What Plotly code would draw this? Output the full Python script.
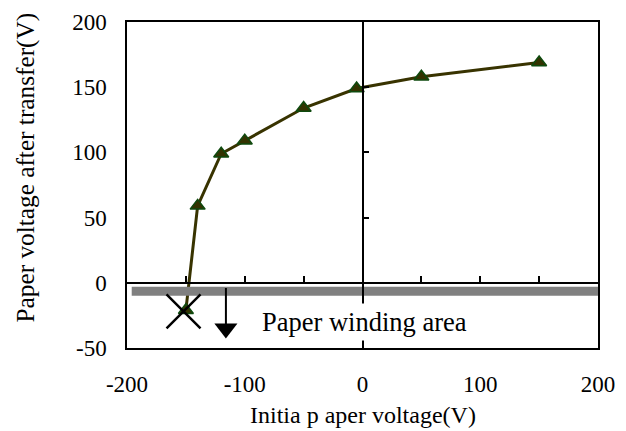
import plotly.graph_objects as go

# Data
initial_voltage = [-150, -140, -120, -100, -50, -5, 50, 150]
after_voltage = [-21, 59, 99, 109, 134, 149, 158, 169]

x_ticks = [-200, -100, 0, 100, 200]
x_tick_text = ["-200", "-100", "0", "100", "200"]
y_ticks = [-50, 0, 50, 100, 150, 200]
y_tick_text = ["-50", "0", "50", "100", "150", "200"]
minor_ticks_x = [-200, -150, -100, -50, 0, 50, 100, 150, 200]
minor_ticks_y = [-50, 0, 50, 100, 150, 200]

band_x = [-196, 200]
band_y = [-6.5, -6.5]
cross_x = [-152]
cross_y = [-22]
arrow_x = [-116, -116]
arrow_y = [-4, -33]
arrow_head_x = [-116]
arrow_head_y = [-35]

FONT = "Liberation Serif, Times New Roman, serif"

fig = go.Figure()

fig.add_trace(go.Scatter(
    x=initial_voltage, y=after_voltage, mode="lines+markers",
    line=dict(color="#383300", width=3),
    marker=dict(symbol="triangle-up", size=13, color="#333300",
                line=dict(color="#0e4a0e", width=1.5)),
    showlegend=False, hoverinfo="skip",
))

# overlay axes (zero lines with ticks)
fig.add_trace(go.Scatter(
    x=band_x, y=band_y, mode="lines", xaxis="x2", yaxis="y2",
    line=dict(color="#808080", width=9), showlegend=False, hoverinfo="skip",
))
fig.add_trace(go.Scatter(
    x=cross_x, y=cross_y, mode="markers", xaxis="x2", yaxis="y2",
    marker=dict(symbol="x-thin", size=34, line=dict(color="black", width=2.5)),
    showlegend=False, hoverinfo="skip",
))
fig.add_trace(go.Scatter(
    x=arrow_x, y=arrow_y, mode="lines", xaxis="x2", yaxis="y2",
    line=dict(color="black", width=2), showlegend=False, hoverinfo="skip",
))
fig.add_trace(go.Scatter(
    x=arrow_head_x, y=arrow_head_y, mode="markers", xaxis="x2", yaxis="y2",
    marker=dict(symbol="triangle-down", size=20, color="black"),
    showlegend=False, hoverinfo="skip",
))

# page body has an 8px margin, so the figure is offset by 8px
fig.update_layout(
    width=618, height=423,
    margin=dict(l=118.5, r=28.3, t=14, b=82.7, autoexpand=False),
    paper_bgcolor="white", plot_bgcolor="white",
    font=dict(family=FONT, size=23, color="black"),
    xaxis=dict(range=[-200, 200], tickvals=x_ticks, ticktext=x_tick_text,
               showline=True, mirror=True,
               linecolor="black", linewidth=1.5, ticks="", showgrid=False,
               zeroline=False, ticklabelstandoff=15, automargin=False,
               tickfont=dict(family=FONT, size=23)),
    yaxis=dict(range=[-50, 200], tickvals=y_ticks, ticktext=y_tick_text,
               showline=True, mirror=True,
               linecolor="black", linewidth=1.5, ticks="", showgrid=False,
               zeroline=False, ticklabelstandoff=14, automargin=False,
               tickfont=dict(family=FONT, size=23)),
    xaxis2=dict(range=[-200, 200], overlaying="x", anchor="free", position=0.2,
                side="bottom", tickvals=minor_ticks_x, ticks="inside", ticklen=6,
                tickwidth=1.5, tickcolor="black", showticklabels=False,
                showline=True, linecolor="black", linewidth=1.5,
                showgrid=False, zeroline=False),
    yaxis2=dict(range=[-50, 200], overlaying="y", anchor="free", position=0.5,
                side="left", tickvals=minor_ticks_y, ticks="inside", ticklen=6,
                tickwidth=1.5, tickcolor="black", showticklabels=False,
                showline=True, linecolor="black", linewidth=1.5,
                showgrid=False, zeroline=False),
    annotations=[
        dict(text="Paper winding area", x=-88.5, y=-30, xref="x", yref="y",
             xanchor="left", yanchor="middle", showarrow=False,
             bgcolor="white", borderpad=3,
             font=dict(family=FONT, size=26.5, color="black")),
        dict(text="Paper voltage after transfer(V)", x=0, y=0.5,
             xref="paper", yref="paper", xanchor="center", yanchor="middle",
             xshift=-102.5, yshift=17, textangle=-90, showarrow=False,
             font=dict(family=FONT, size=25.3, color="black")),
        dict(text="Initia p aper voltage(V)", x=0.5, y=0,
             xref="paper", yref="paper", xanchor="center", yanchor="middle",
             yshift=-66.7, showarrow=False,
             font=dict(family=FONT, size=24, color="black")),
    ],
)

fig.write_html("out.html")
